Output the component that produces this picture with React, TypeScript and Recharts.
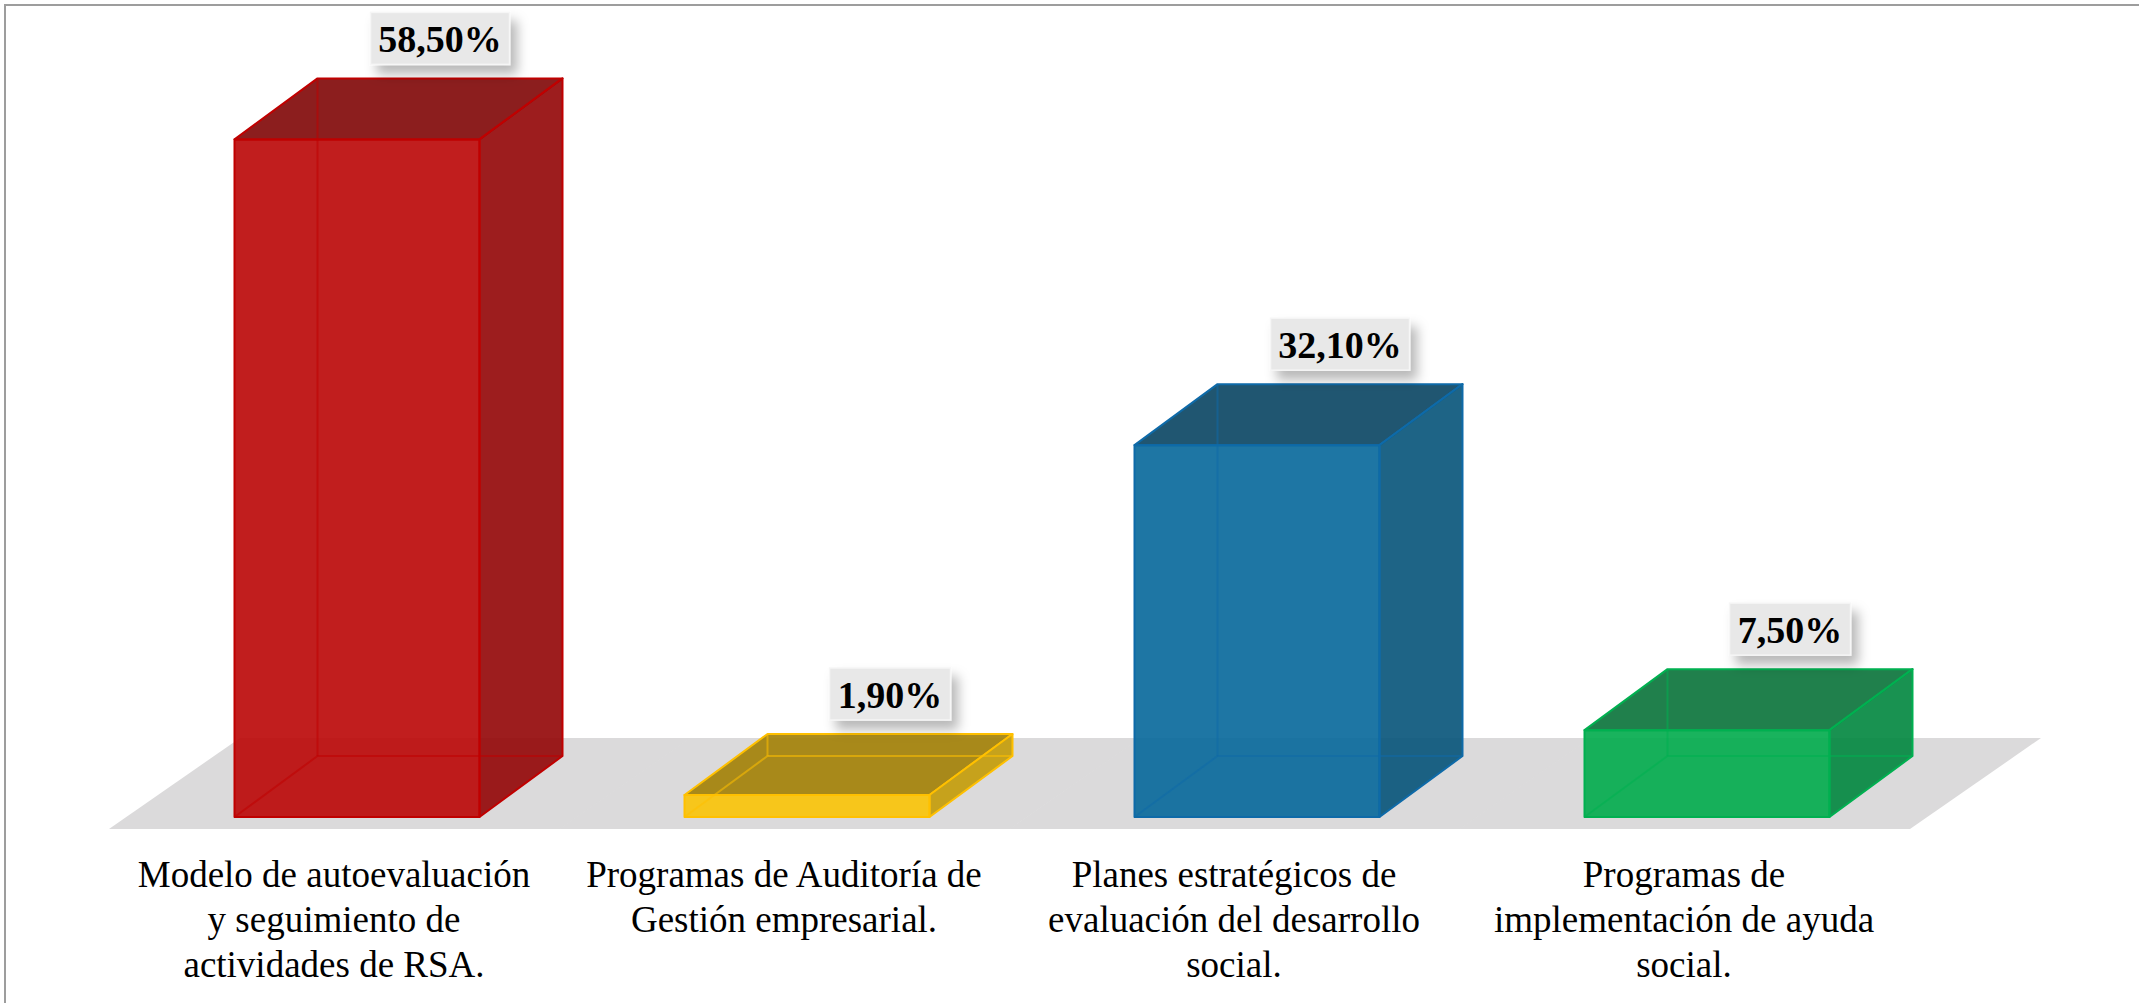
import { BarChart, Bar, XAxis, YAxis, LabelList } from 'recharts';

const CATEGORIES = [
  'Modelo de autoevaluación\ny seguimiento de\nactividades de RSA.',
  'Programas de Auditoría de\nGestión empresarial.',
  'Planes estratégicos de\nevaluación del desarrollo\nsocial.',
  'Programas de\nimplementación de ayuda\nsocial.',
];
const VALUES = [58.5, 1.9, 32.1, 7.5];

// face colours per bar: front, top, right side, edges
const FRONT = ['#ba0606', '#f9c305', '#06679a', '#00ab4b'];
const TOP = ['#7f0505', '#a27f04', '#084462', '#087239'];
const SIDE = ['#920406', '#c39b07', '#065379', '#00863e'];
const EDGE = ['#c00000', '#ffc000', '#0e6aa8', '#00b050'];

const data = CATEGORIES.map((name, i) => ({ name, value: VALUES[i] }));

const DX = 83;
const DY = 61;
const GAP = 102.5;
const SERIF = "'Liberation Serif', 'Times New Roman', serif";

const fmt = (v: number) => v.toFixed(2).replace('.', ',') + '%';

function Box3D(props: any) {
  const { x, y, width: w, height: h, index } = props;
  const i = index ?? 0;
  const pts = (a: number[][]) => a.map((p) => p.join(',')).join(' ');
  const top = pts([[x, y], [x + w, y], [x + w + DX, y - DY], [x + DX, y - DY]]);
  const side = pts([[x + w, y], [x + w + DX, y - DY], [x + w + DX, y + h - DY], [x + w, y + h]]);
  return (
    <g strokeLinejoin="round">
      <polygon points={top} fill={TOP[i]} fillOpacity={0.9} stroke={EDGE[i]} strokeWidth={2} />
      <polygon points={side} fill={SIDE[i]} fillOpacity={0.9} stroke={EDGE[i]} strokeWidth={2} />
      <rect x={x} y={y} width={w} height={h} fill={FRONT[i]} fillOpacity={0.9} stroke={EDGE[i]} strokeWidth={2} />
      <g stroke={EDGE[i]} strokeWidth={2} strokeOpacity={0.55}>
        <line x1={x + DX} y1={y - DY} x2={x + DX} y2={y + h - DY} />
        <line x1={x + DX} y1={y + h - DY} x2={x + w + DX} y2={y + h - DY} />
        <line x1={x} y1={y + h} x2={x + DX} y2={y + h - DY} />
      </g>
    </g>
  );
}

function Floor(props: any) {
  const { x, y, width: w, height: h } = props;
  const base = y + h;
  const l = x - GAP;
  const r = x + w + GAP + 1;
  const fy = base + 12;
  const by = base - 79;
  const p = [[l - 23, fy], [r - 23, fy], [r + 108, by], [l + 108, by]];
  return <polygon points={p.map((q) => q.join(',')).join(' ')} fill="#dbdadb" />;
}

function ValueLabel(props: any) {
  const { x, y, width: w, value, index } = props;
  const s = fmt(Number(value));
  let tw = 0;
  for (const c of s) tw += c === ',' ? 9 : c === '%' ? 36 : 18;
  const bw = tw + 22;
  const bh = 52;
  const cx = x + w / 2 + DX;
  const bottom = y - DY - 14;
  const id = `lblsh${index}`;
  return (
    <g>
      <defs>
        <filter id={id} x="-30%" y="-30%" width="170%" height="190%">
          <feDropShadow dx={7} dy={9} stdDeviation={6} floodColor="#000" floodOpacity={0.28} />
        </filter>
      </defs>
      <rect x={cx - bw / 2} y={bottom - bh} width={bw} height={bh} fill="#e8e8e8" stroke="#f6f6f6" strokeWidth={1.5} filter={`url(#${id})`} />
      <text x={cx} y={bottom - 12} textAnchor="middle" fontFamily={SERIF} fontWeight="bold" fontSize={38} fill="#000">
        {s}
      </text>
    </g>
  );
}

function CategoryTick(props: any) {
  const { x, y, payload } = props;
  const lines = String(payload.value).split('\n');
  return (
    <text textAnchor="middle" fontFamily={SERIF} fontSize={37} fill="#000">
      {lines.map((ln, i) => (
        <tspan key={i} x={x - 23} y={y + 70 + 45 * i}>{ln}</tspan>
      ))}
    </text>
  );
}

export default function App() {
  return (
    <div style={{ position: 'absolute', left: 0, top: 0, width: 2139, height: 1003, overflow: 'hidden', background: '#fff' }}>
      <div style={{ position: 'absolute', left: 4, top: 4, width: 2300, height: 1200, border: '2px solid #9d9d9d' }} />
      <div style={{ position: 'absolute', left: 0, top: 0 }}>
        <BarChart width={2139} height={1003} data={data} margin={{ top: 122, right: 207, left: 132, bottom: 0 }} barCategoryGap={GAP}>
          <XAxis
            dataKey="name"
            height={186}
            interval={0}
            tickLine={false}
            axisLine={false}
            tickSize={0}
            tickMargin={0}
            tick={(p: any) => <CategoryTick {...p} />}
          />
          <YAxis hide domain={[0, 60]} />
          <Bar
            dataKey="value"
            isAnimationActive={false}
            background={(p: any) => <Floor {...p} />}
            shape={(p: any) => <Box3D {...p} />}
          >
            <LabelList dataKey="value" content={(p: any) => <ValueLabel {...p} />} />
          </Bar>
        </BarChart>
      </div>
    </div>
  );
}
